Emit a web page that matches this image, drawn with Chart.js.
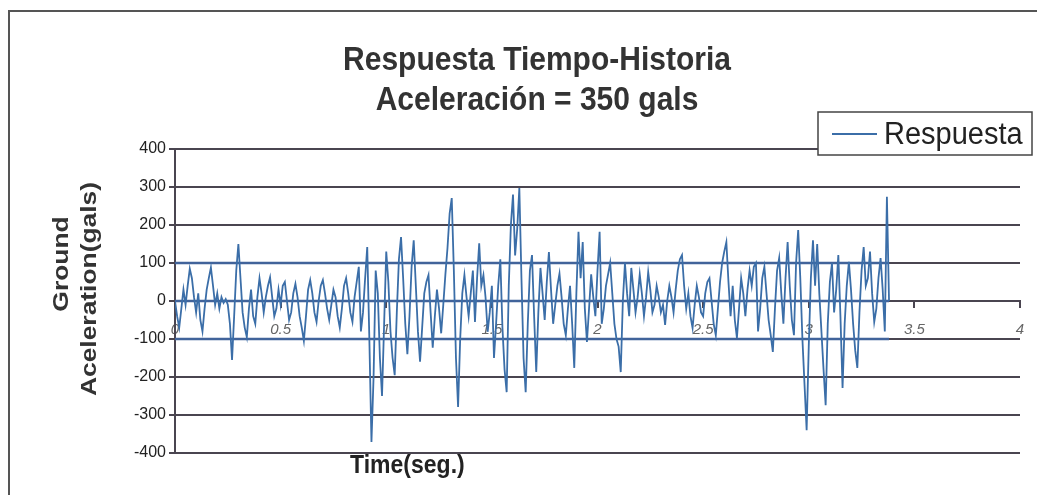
<!DOCTYPE html>
<html>
<head>
<meta charset="utf-8">
<script src="https://cdn.jsdelivr.net/npm/chart.js@4.4.0/dist/chart.umd.min.js"></script>
<style>
  html, body { margin: 0; padding: 0; background: #fff; }
  canvas { display: block; }
</style>
</head>
<body>
<canvas id="chart" width="1037" height="495"></canvas>
<script>
// Respuesta tiempo-historia, one sample every 0.01 s
const sampleStep = 0.01;
const respuesta = [
  0, -40, -70, -20, 30, -10, 40, 85, 60, 10,
  -30, 20, -50, -80, -20, 30, 60, 88, 40, -10,
  20, -20, 10, -5, 5, -10, -60, -155, -40, 80,
  150, 60, -30, -70, -95, -20, 30, -40, -60, 10,
  60, 20, -30, 10, 40, 62, 10, -40, -20, 30,
  -10, 40, 50, 0, -50, -30, 20, 45, 10, -40,
  -70, -105, -40, 30, 55, 20, -30, -55, 0, 40,
  55, 20, -20, -50, -10, 30, 10, -40, -70, -20,
  40, 60, 20, -30, -55, 10, 50, 90, -80, -30,
  60, 142, -100, -371, -200, 80, 20, -150, -250, -60,
  130, 50, -80, -150, -195, -30, 110, 168, 60, -60,
  -140, -40, 90, 160, 40, -80, -160, -70, 20, 50,
  68, -30, -123, -40, 30, -20, -85, -10, 70, 140,
  230, 271, 80, -150, -279, -100, 20, 68, 10, -40,
  20, 80, -55, 60, 152, 40, 68, 10, -81, -30,
  40, -150, -60, 40, 110, -70, -180, -240, 40, 200,
  280, 120, 190, 297, 60, -150, -240, -60, 80, 121,
  -40, -187, -30, 87, 20, -50, 50, 129, 30, -60,
  -10, 40, 72, 10, -60, -90, -20, 40, -60, -176,
  20, 182, 60, 155, -20, -108, -20, 70, 10, -40,
  80, 182, -60, -20, 40, 70, 100, 20, -60, -100,
  -120, -187, 0, 100, 20, -40, 87, 30, -30, 10,
  70, 20, -40, 10, 76, 30, -30, -10, 40, 10,
  -30, -10, -63, 0, 40, 10, -30, 30, 80, 110,
  121, 40, -20, 20, -40, -71, -10, 40, 10, -30,
  -40, 20, 50, 60, 0, -60, -90, -20, 50, 100,
  130, 155, 50, -40, 40, -50, -97, -20, 60, 20,
  -40, 30, 80, 40, 90, 100, -80, -20, 60, 90,
  20, -50, -90, -134, -20, 80, 113, 20, -60, 60,
  155, 40, -50, -90, 100, 187, 60, -100, -220, -340,
  -120, 60, 160, 40, 150, 20, -80, -180, -274, -60,
  50, 100, -30, 30, 121, -40, -229, -60, 40, 103,
  30, -60, -130, -176, -30, 80, 142, 40, 60, 130,
  20, -55, -20, 60, 113, 30, -80, 274, 0
];
// levels that show as blue bands through the record
const refLevels = [100, 0, -100];

const yTicks = { min: -400, max: 400, step: 100 };
const xTicks = { min: 0, max: 4, step: 0.5 };

const titleLines = ["Respuesta Tiempo-Historia", "Aceleración = 350 gals"];
const yTitle = ["Ground", "Aceleration(gals)"];
const xTitle = "Time(seg.)";

const FONT = "'Liberation Sans', Arial, sans-serif";
const GRID = "#4a4550";
const BLUE = "#3b6ea8";

const points = respuesta.map((v, i) => ({ x: i * sampleStep, y: v }));
const tEnd = (respuesta.length - 1) * sampleStep;

const refSets = refLevels.map((level) => ({
  label: "ref",
  data: [{ x: 0, y: level }, { x: tEnd, y: level }],
  borderColor: "#41639a",
  borderWidth: 2.5,
  pointRadius: 0,
}));

// the scan is a little taller than wide, so text is drawn slightly stretched
function stretchedText(c, text, x, y, sy) {
  c.save();
  c.translate(x, y);
  c.scale(1, sy);
  c.fillText(text, 0, 0);
  c.restore();
}

// outer frame, titles and the boxed legend
const framePlugin = {
  id: "frame",
  beforeDraw(chart) {
    const c = chart.ctx;
    c.save();
    c.fillStyle = "#fff";
    c.fillRect(0, 0, chart.width, chart.height);
    c.strokeStyle = "#555";
    c.lineWidth = 2;
    c.beginPath();
    c.moveTo(9, chart.height);
    c.lineTo(9, 11);
    c.lineTo(chart.width, 11);
    c.stroke();
    c.restore();
  },
  afterDraw(chart) {
    const c = chart.ctx;
    const area = chart.chartArea;
    c.save();
    c.textAlign = "center";
    c.textBaseline = "middle";

    // chart title
    c.font = "bold 30px " + FONT;
    c.fillStyle = "#333";
    stretchedText(c, titleLines[0], 537, 61, 1.12);
    stretchedText(c, titleLines[1], 537, 101, 1.12);

    // x title
    c.font = "bold 23px " + FONT;
    c.fillStyle = "#222";
    stretchedText(c, xTitle, area.left + (area.right - area.left) * 0.275, 466, 1.1);

    // y title, two rotated lines
    c.font = "bold 22px " + FONT;
    c.fillStyle = "#333";
    c.save();
    c.translate(62, 264);
    c.rotate(-Math.PI / 2);
    c.scale(1.2, 1);
    c.fillText(yTitle[0], 0, 0);
    c.restore();
    c.save();
    c.translate(90, 289);
    c.rotate(-Math.PI / 2);
    c.scale(1.2, 1);
    c.fillText(yTitle[1], 0, 0);
    c.restore();

    // legend
    const ds = chart.data.datasets[0];
    c.fillStyle = "#fff";
    c.fillRect(818, 112, 214, 43);
    c.strokeStyle = "#444";
    c.lineWidth = 1.5;
    c.strokeRect(818, 112, 214, 43);
    c.strokeStyle = ds.borderColor;
    c.lineWidth = 2;
    c.beginPath();
    c.moveTo(832, 134);
    c.lineTo(877, 134);
    c.stroke();
    c.font = "29px " + FONT;
    c.fillStyle = "#222";
    c.textAlign = "left";
    stretchedText(c, ds.label, 884, 135, 1.1);
    c.restore();
  },
};

new Chart(document.getElementById("chart"), {
  type: "line",
  data: {
    datasets: [
      {
        label: "Respuesta",
        data: points,
        borderColor: BLUE,
        borderWidth: 1.8,
        pointRadius: 0,
        tension: 0,
      },
      ...refSets,
    ],
  },
  options: {
    responsive: false,
    animation: false,
    events: [],
    layout: { padding: { left: 30, right: 17, top: 149, bottom: 42 } },
    plugins: {
      legend: { display: false },
      tooltip: { enabled: false },
      title: { display: false },
    },
    scales: {
      x: {
        type: "linear",
        position: { y: 0 },
        min: xTicks.min,
        max: xTicks.max,
        ticks: {
          stepSize: xTicks.step,
          color: "#666",
          font: { family: FONT, size: 15, style: "italic" },
          padding: 14,
          maxRotation: 0,
          callback: (v) => String(v),
        },
        grid: { drawOnChartArea: false, tickLength: 6, color: GRID, lineWidth: 2 },
        border: { color: GRID, width: 2 },
        afterFit(scale) {
          scale.paddingLeft = 0;
          scale.paddingRight = 0;
        },
      },
      y: {
        min: yTicks.min,
        max: yTicks.max,
        ticks: {
          stepSize: yTicks.step,
          color: "#222",
          font: { family: FONT, size: 16 },
        },
        grid: { color: GRID, lineWidth: 2, tickLength: 6 },
        border: { color: GRID, width: 2 },
        afterFit(scale) {
          scale.width = 145;
        },
      },
    },
  },
  plugins: [framePlugin],
});
</script>
</body>
</html>
